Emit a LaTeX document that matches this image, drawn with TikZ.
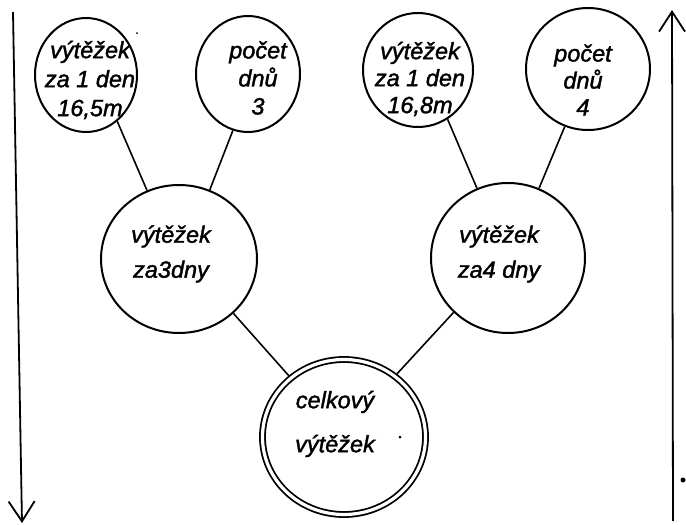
\documentclass[tikz,border=0pt]{standalone}
\usepackage{fontspec}
\setmainfont{Liberation Sans}
\newfontface\lettering{Liberation Sans Italic}[FakeBold=1.6]
\usetikzlibrary{shapes.geometric,arrows.meta}
\begin{document}
\begin{tikzpicture}[x=1pt,y=-1pt,
  bubble/.style={ellipse,draw,line width=2pt,inner sep=0pt,outer sep=1pt},
  word/.style={align=center,font=\fontsize{23.5}{#1}\selectfont\lettering},
  link/.style={line width=1.6pt},
  axis/.style={line width=1.8pt,-{Straight Barb[length=20pt,width=26pt]}}
]
\useasboundingbox (0,0) rectangle (686,525);

% top row: daily yield and number of days
\node[bubble,minimum width=102pt,minimum height=114pt,
  label={[word=29,xshift=4pt,yshift=-5pt]center:{výtěžek\\za 1 den\\16,5m}}] (c1) at (86,75) {};
\node[bubble,minimum width=104pt,minimum height=116pt,
  label={[word=28,xshift=10pt,yshift=-4pt]center:{počet\\dnů\\3}}] (c2) at (248,74) {};
\node[bubble,minimum width=110pt,minimum height=114pt,
  label={[word=27,xshift=2pt,yshift=-9pt]center:{výtěžek\\za 1 den\\16,8m}}] (c3) at (418,70) {};
\node[bubble,minimum width=124pt,minimum height=122pt,
  label={[word=27,xshift=-5pt,yshift=-11pt]center:{počet\\dnů\\4}}] (c4) at (588,69) {};

% middle row: yield over several days
\node[bubble,minimum width=156pt,minimum height=148pt,
  label={[word=35,xshift=-8pt,yshift=5pt]center:{výtěžek\\za3dny}}] (m1) at (179,259) {};
\node[bubble,minimum width=154pt,minimum height=150pt,
  label={[word=35,xshift=-9pt,yshift=4pt]center:{výtěžek\\za4 dny}}] (m2) at (508,258) {};

% total yield, drawn with a double border
\node[ellipse,draw,line width=1.8pt,double,double distance=3.2pt,inner sep=0pt,outer sep=3.4pt,
  minimum width=163pt,minimum height=155pt,
  label={[word=44,xshift=-9pt,yshift=13pt]center:{celkový\\výtěžek}}] (b) at (344,437) {};

% connections
\draw[link] (c1.-56) -- (m1.115);
\draw[link] (c2.-105) -- (m1.66);
\draw[link] (c3.-59) -- (m2.114);
\draw[link] (c4.-112) -- (m2.66);
\draw[link] (m1.-45) -- (b.132);
\draw[link] (m2.-135) -- (b.50);

% side arrows
\coordinate (ltop) at (13,12);
\coordinate (lbot) at (22,523);
\coordinate (rbot) at (673,521);
\coordinate (rtop) at (672,10);
\draw[axis] (ltop) -- (lbot);
\draw[axis] (rbot) -- (rtop);

% specks
\fill (400,437) circle (1.5pt);
\fill (683,480) circle (2.5pt);
\fill (137,33) circle (1pt);
\end{tikzpicture}
\end{document}
